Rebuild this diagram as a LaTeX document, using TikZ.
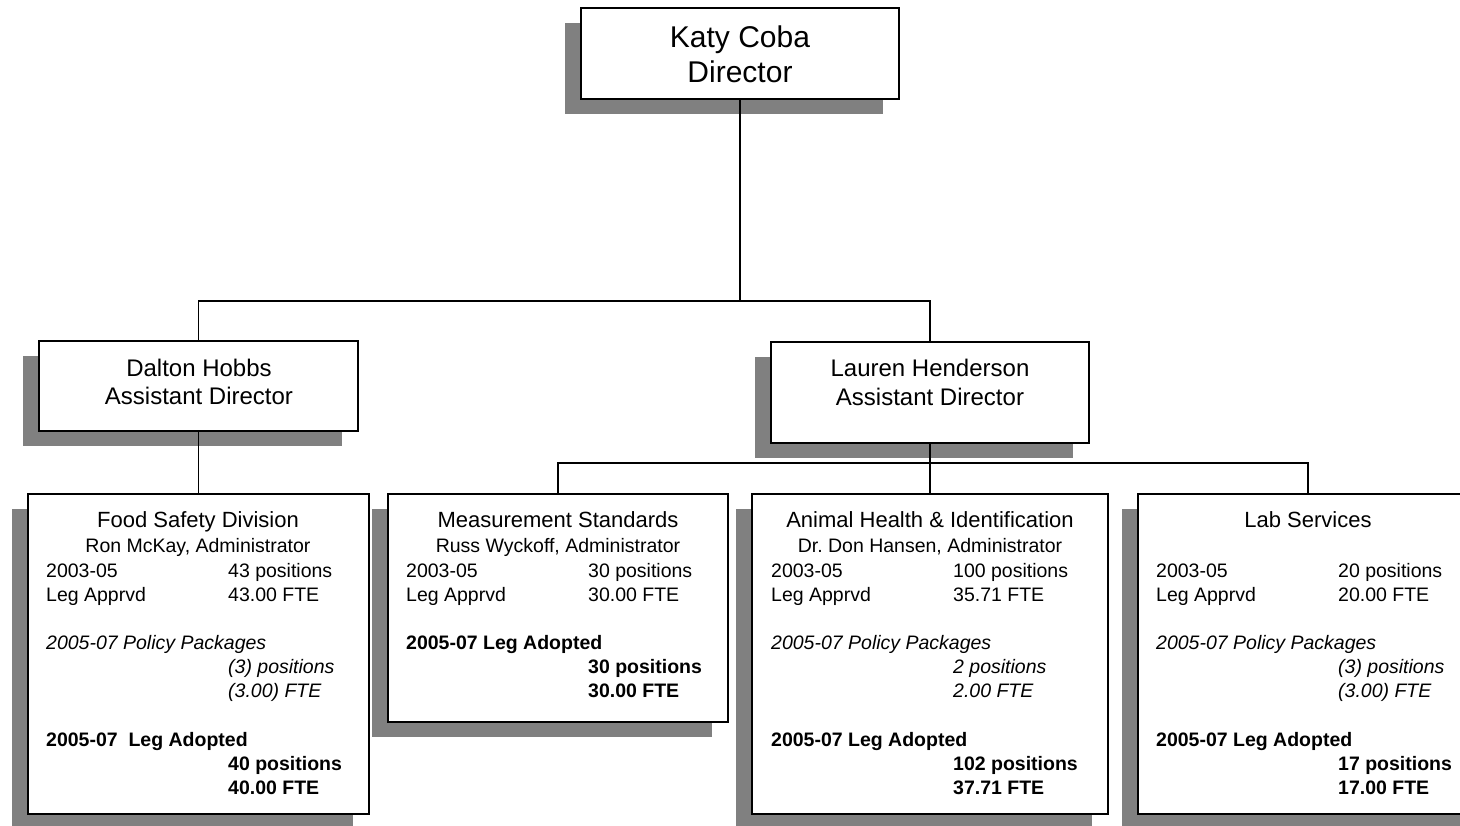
\documentclass[tikz,border=0pt]{standalone}
\usepackage{fontspec}
\setmainfont{Liberation Sans}
\usetikzlibrary{shadows}
\definecolor{shade}{HTML}{808080}
\frenchspacing
\tikzset{
  box/.style={draw=black, line width=1.3pt, fill=white, inner sep=0pt,
    drop shadow={shadow xshift=-16pt, shadow yshift=-15pt, fill=shade, opacity=1}},
  conn/.style={draw=black, line width=1.3pt},
  bigtxt/.style={inner sep=0pt, anchor=base, font=\fontsize{30}{35}\selectfont},
  midtxt/.style={inner sep=0pt, anchor=base, font=\fontsize{24}{28}\selectfont},
  ttl/.style={inner sep=0pt, anchor=base, font=\fontsize{22}{26}\selectfont},
  adm/.style={inner sep=0pt, anchor=base, font=\fontsize{19.5}{23}\selectfont},
  dat/.style={inner sep=0pt, anchor=base west, font=\fontsize{19.5}{23}\selectfont},
  itdat/.style={dat, font=\fontsize{19.5}{23}\selectfont\itshape},
  bfdat/.style={dat, font=\fontsize{19.5}{23}\selectfont\bfseries}
}
\begin{document}
\begin{tikzpicture}[x=1pt,y=-1pt]
\clip (0,0) rectangle (1460,826);
\fill[white] (0,0) rectangle (1460,826);

% boxes
\node[box, minimum width=318pt, minimum height=91pt] (katy) at (740,53.5) {};
\node[box, minimum width=319pt, minimum height=90pt] (dalton) at (198.5,386) {};
\node[box, minimum width=318pt, minimum height=101pt] (lauren) at (930,392.5) {};
\node[box, minimum width=341pt, minimum height=320pt] (food) at (198.5,654) {};
\node[box, minimum width=340pt, minimum height=228pt] (meas) at (558,608) {};
\node[box, minimum width=356pt, minimum height=320pt] (animal) at (930,654) {};
\node[box, minimum width=340pt, minimum height=320pt] (lab) at (1308,654) {};

% connectors
\coordinate (j1) at (740,301);
\coordinate (j2) at (930,463);
\draw[conn] (katy.south) -- (j1);
\draw[conn] (dalton.north) |- (j1) -| (lauren.north);
\draw[conn] (dalton.south) -- (food.north);
\draw[conn] (lauren.south) -- (j2);
\draw[conn] (meas.north) |- (j2) -| (lab.north);
\draw[conn] (j2) -- (animal.north);

% Director
\node[bigtxt] (k1) at (740,48) {Katy Coba};
\node[bigtxt] (k2) at (740,83) {Director};
% Assistants
\node[midtxt] (d1) at (199,377) {Dalton Hobbs};
\node[midtxt] (d2) at (199,405) {Assistant Director};
\node[midtxt] (l1) at (930,377) {Lauren Henderson};
\node[midtxt] (l2) at (930,406) {Assistant Director};

% Food Safety
\node[ttl] (f1) at (198,527) {Food Safety Division};
\node[adm] (f2) at (198,552) {Ron McKay, Administrator};
\node[dat] (f3) at (46,577) {2003-05};
\node[dat] (f4) at (228,577) {43 positions};
\node[dat] (f5) at (46,601) {Leg Apprvd};
\node[dat] (f6) at (228,601) {43.00 FTE};
\node[itdat] (f7) at (46,649) {2005-07 Policy Packages};
\node[itdat] (f8) at (228,673) {(3) positions};
\node[itdat] (f9) at (228,697) {(3.00) FTE};
\node[bfdat] (f10) at (46,746) {2005-07\ \ Leg Adopted};
\node[bfdat] (f11) at (228,770) {40 positions};
\node[bfdat] (f12) at (228,794) {40.00 FTE};

% Measurement Standards
\node[ttl] (m1) at (558,527) {Measurement Standards};
\node[adm] (m2) at (558,552) {Russ Wyckoff, Administrator};
\node[dat] (m3) at (406,577) {2003-05};
\node[dat] (m4) at (588,577) {30 positions};
\node[dat] (m5) at (406,601) {Leg Apprvd};
\node[dat] (m6) at (588,601) {30.00 FTE};
\node[bfdat] (m7) at (406,649) {2005-07 Leg Adopted};
\node[bfdat] (m8) at (588,673) {30 positions};
\node[bfdat] (m9) at (588,697) {30.00 FTE};

% Animal Health
\node[ttl] (a1) at (930,527) {Animal Health \& Identification};
\node[adm] (a2) at (930,552) {Dr.\ Don Hansen, Administrator};
\node[dat] (a3) at (771,577) {2003-05};
\node[dat] (a4) at (953,577) {100 positions};
\node[dat] (a5) at (771,601) {Leg Apprvd};
\node[dat] (a6) at (953,601) {35.71 FTE};
\node[itdat] (a7) at (771,649) {2005-07 Policy Packages};
\node[itdat] (a8) at (953,673) {2 positions};
\node[itdat] (a9) at (953,697) {2.00 FTE};
\node[bfdat] (a10) at (771,746) {2005-07 Leg Adopted};
\node[bfdat] (a11) at (953,770) {102 positions};
\node[bfdat] (a12) at (953,794) {37.71 FTE};

% Lab Services
\node[ttl] (b1) at (1308,527) {Lab Services};
\node[dat] (b3) at (1156,577) {2003-05};
\node[dat] (b4) at (1338,577) {20 positions};
\node[dat] (b5) at (1156,601) {Leg Apprvd};
\node[dat] (b6) at (1338,601) {20.00 FTE};
\node[itdat] (b7) at (1156,649) {2005-07 Policy Packages};
\node[itdat] (b8) at (1338,673) {(3) positions};
\node[itdat] (b9) at (1338,697) {(3.00) FTE};
\node[bfdat] (b10) at (1156,746) {2005-07 Leg Adopted};
\node[bfdat] (b11) at (1338,770) {17 positions};
\node[bfdat] (b12) at (1338,794) {17.00 FTE};
\end{tikzpicture}
\end{document}
